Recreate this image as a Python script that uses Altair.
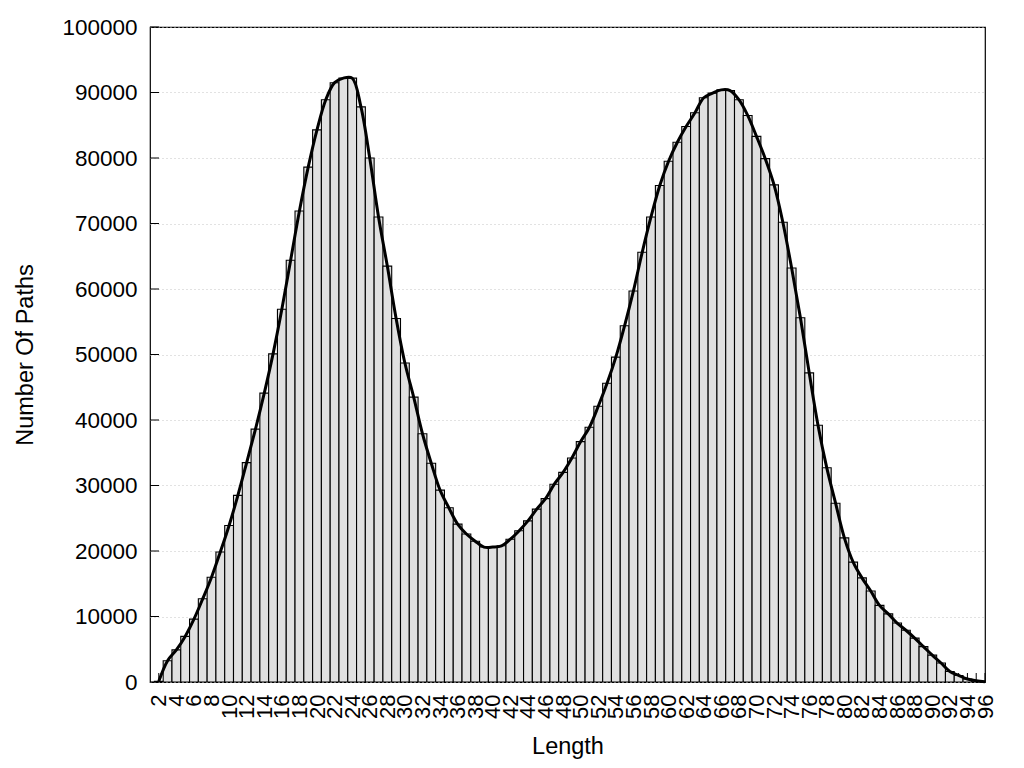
import altair as alt
import pandas as pd

lengths = list(range(2, 97))
paths = [
    100, 3250, 4900, 6960, 9600, 12700, 16000, 19850, 23900, 28500,
    33500, 38600, 44100, 50100, 56900, 64400, 71900, 78600, 84300, 88900,
    91500, 92200, 92200, 87800, 80000, 71000, 63500, 55500, 48700, 43500,
    37900, 33400, 29300, 26600, 24100, 22600, 21500, 20600, 20600, 20800,
    21800, 23100, 24600, 26400, 28000, 30200, 32000, 34200, 36700, 38900,
    42100, 45600, 49600, 54400, 59700, 65600, 71000, 75800, 79500, 82400,
    84800, 86900, 89200, 89900, 90400, 90300, 88900, 86500, 83300, 79900,
    75900, 70200, 63200, 55600, 47200, 39200, 32700, 27300, 22000, 18300,
    15900, 13900, 11700, 10400, 9000, 7900, 6700, 5400, 4100, 2900,
    1600, 1000, 450, 200, 50,
]
x_tick_labels = list(range(2, 97, 2))
y_ticks = list(range(0, 100001, 10000))

df = pd.DataFrame({"Length": lengths, "Paths": paths})
ticks_df = pd.DataFrame({"Length": lengths})
ytick_df = pd.DataFrame({"v": y_ticks})

W, H = 835, 655
FONT = "Liberation Sans"

xscale = alt.Scale(domain=[1, 96], nice=False, zero=False)
yscale = alt.Scale(domain=[0, 100000], nice=False)

xaxis = alt.Axis(
    title="Length",
    values=x_tick_labels,
    labelAngle=270,
    labelOverlap=False,
    labelFlush=False,
    ticks=False,
    domain=False,
    grid=False,
    labelPadding=12,
    labelFontSize=22,
    titleFontSize=23.5,
    titlePadding=16,
    labelFont=FONT,
    titleFont=FONT,
    labelColor="black",
    titleColor="black",
    titleFontWeight="normal",
)
yaxis = alt.Axis(
    title="Number Of Paths",
    values=y_ticks,
    format="d",
    ticks=False,
    domain=False,
    grid=True,
    gridColor="#c4c4c4",
    gridDash=[1, 3],
    gridWidth=1,
    labelPadding=13,
    labelFontSize=22.5,
    labelFlush=False,
    labelOverlap=False,
    titleFontSize=23.5,
    titlePadding=24,
    labelFont=FONT,
    titleFont=FONT,
    labelColor="black",
    titleColor="black",
    titleFontWeight="normal",
)

base = alt.Chart(df)

# inward x ticks (behind bars)
xticks = alt.Chart(ticks_df).mark_rule(color="black", strokeWidth=1).encode(
    x=alt.X("Length:Q", scale=xscale, axis=xaxis),
    y=alt.value(H),
    y2=alt.value(H - 9),
)

# inward y ticks
yticks = alt.Chart(ytick_df).mark_rule(color="black", strokeWidth=1).encode(
    y=alt.Y("v:Q", scale=yscale, axis=yaxis),
    x=alt.value(0),
    x2=alt.value(9),
)

bars = base.transform_calculate(
    x0="datum.Length - 0.5", x1="datum.Length + 0.5"
).mark_rect(fill="#e0e0e0", stroke="black", strokeWidth=1.1, clip=True).encode(
    x=alt.X("x0:Q", scale=xscale, axis=xaxis),
    x2="x1:Q",
    y=alt.Y("Paths:Q", scale=yscale, axis=yaxis),
    y2=alt.datum(0),
)

line = base.mark_line(color="black", strokeWidth=3, interpolate="catmull-rom").encode(
    x=alt.X("Length:Q", scale=xscale, axis=xaxis),
    y=alt.Y("Paths:Q", scale=yscale, axis=yaxis),
)

chart = alt.layer(xticks, yticks, bars, line).properties(
    width=W,
    height=H,
    background="white",
    padding={"left": 142, "top": 19, "right": 20, "bottom": 80},
    autosize=alt.AutoSizeParams(type="none"),
).configure_view(stroke="black", strokeWidth=1.2)

chart.save("out.html", embed_options={"renderer": "svg", "actions": False})
